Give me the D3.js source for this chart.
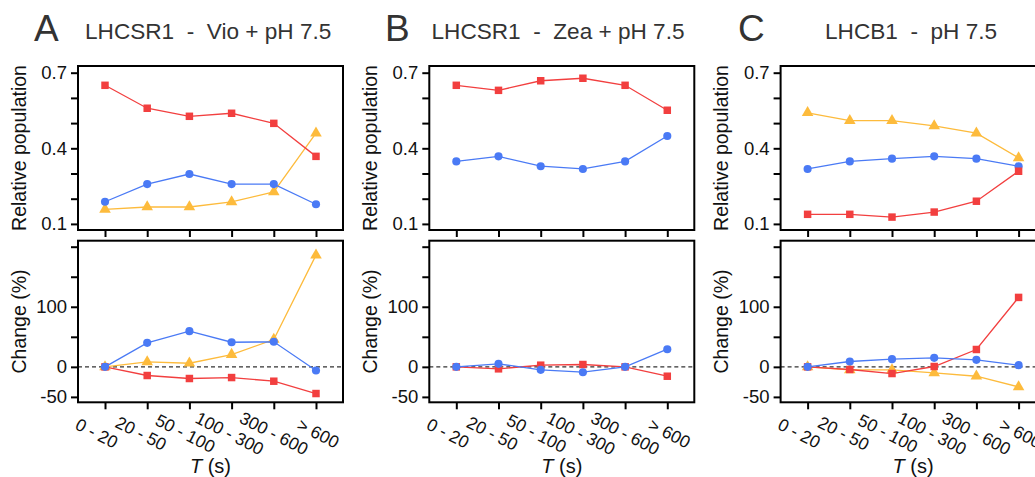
<!DOCTYPE html>
<html><head><meta charset="utf-8">
<script src="https://cdn.jsdelivr.net/npm/d3@7"></script>
<style>
body{margin:0;background:#fff;}
text{font-family:"Liberation Sans",Arial,Helvetica,sans-serif;}
</style></head>
<body><svg id="chart" width="1035" height="477"></svg>
<script>
const categories = ["0 - 20","20 - 50","50 - 100","100 - 300","300 - 600","> 600"];
const panelLetters = ["A","B","C"];
const panelTitles = ["LHCSR1  -  Vio + pH 7.5","LHCSR1  -  Zea + pH 7.5","LHCB1  -  pH 7.5"];
const relTicks = [0.1,0.2,0.3,0.4,0.5,0.6,0.7];
const relLabels = [0.1,0.4,0.7];
const chgTicks = [-50,0,50,100,150,200];
const chgLabels = [-50,0,100];

// Panel A
const A_relRed = [0.650,0.559,0.527,0.539,0.499,0.368];
const A_relBlue = [0.188,0.258,0.298,0.258,0.258,0.178];
const A_relOrange = [0.158,0.167,0.167,0.187,0.227,0.460];
const A_chgRed = [0,-14.4,-19.4,-17.8,-23.9,-44.4];
const A_chgBlue = [0,40,59.4,41,41.7,-6];
const A_chgOrange = [0,8.3,6,20.5,45.5,186];
// Panel B
const B_relRed = [0.650,0.630,0.668,0.678,0.650,0.551];
const B_relBlue = [0.348,0.368,0.329,0.318,0.348,0.449];
const B_chgRed = [0,-3.3,2.8,3.9,0,-15.6];
const B_chgBlue = [0,5,-5,-8.9,0,29.4];
// Panel C
const C_relRed = [0.138,0.138,0.127,0.147,0.190,0.309];
const C_relBlue = [0.318,0.348,0.359,0.368,0.359,0.329];
const C_relOrange = [0.541,0.510,0.510,0.489,0.460,0.362];
const C_chgRed = [0,-4.4,-11.1,0.6,28.9,115.6];
const C_chgBlue = [0,8.9,12.8,15,11.7,2.8];
const C_chgOrange = [0,-5,-5,-10,-15.6,-33.3];

const COL = {red:"#f23f3f", blue:"#4a7af5", orange:"#fdbb3c"};

const panels = [
  {rel:[["orange",A_relOrange],["red",A_relRed],["blue",A_relBlue]],
   chg:[["orange",A_chgOrange],["red",A_chgRed],["blue",A_chgBlue]]},
  {rel:[["red",B_relRed],["blue",B_relBlue]],
   chg:[["red",B_chgRed],["blue",B_chgBlue]]},
  {rel:[["orange",C_relOrange],["blue",C_relBlue],["red",C_relRed]],
   chg:[["orange",C_chgOrange],["red",C_chgRed],["blue",C_chgBlue]]}
];

const svg = d3.select("#chart");
const W = 265, topY0 = 66, topY1 = 230, botY0 = 240.7, botY1 = 402.3;

function marker(g, color, x, y){
  let sym;
  if(color==="red") sym = d3.symbol(d3.symbolSquare, 56);
  else if(color==="blue") sym = d3.symbol(d3.symbolCircle, 52);
  else sym = d3.symbol(d3.symbolTriangle, 58);
  g.append("path").attr("d", sym()).attr("transform", `translate(${x},${y})`).attr("fill", COL[color]);
}

function drawSeries(g, x, y, color, vals){
  const line = d3.line().x((d,i)=>x(categories[i])).y(d=>y(d));
  g.append("path").attr("d", line(vals)).attr("fill","none").attr("stroke",COL[color]).attr("stroke-width",1.3);
  vals.forEach((v,i)=>marker(g, color, x(categories[i]), y(v)));
}

panels.forEach((p, pi)=>{
  const left = 78 + 351.3*pi;
  const x = d3.scalePoint().domain(categories).range([left, left+W]).padding(0.64);
  const yT = d3.scaleLinear().domain([0.0758, 0.7266]).range([topY1, topY0]);
  const yB = d3.scaleLinear().domain([-59, 210]).range([botY1, botY0]);

  // letter and title
  svg.append("text").attr("x", [34,385,738][pi]).attr("y", 41).attr("font-size", 37).attr("fill","#333").text(panelLetters[pi]);
  svg.append("text").attr("x", [85,431.5,825][pi]).attr("y", 39).attr("font-size", 22.6).attr("fill","#333")
     .style("white-space","pre").text(panelTitles[pi]);

  // top panel axes
  const ay = svg.append("g").attr("transform",`translate(${left},0)`)
    .call(d3.axisLeft(yT).tickValues(relTicks).tickSize(7).tickPadding(4)
      .tickFormat(d=> relLabels.some(l=>Math.abs(l-d)<1e-9) ? d3.format(".1f")(d) : ""));
  ay.select(".domain").remove();
  ay.selectAll("line").attr("stroke","#000").attr("stroke-width",2);
  ay.selectAll("text").attr("font-size",18.5).attr("fill","#111");
  const axT = svg.append("g").attr("transform",`translate(0,${topY1})`)
    .call(d3.axisBottom(x).tickSize(7).tickFormat(""));
  axT.select(".domain").remove();
  axT.selectAll("line").attr("stroke","#000").attr("stroke-width",2);

  svg.append("text").attr("transform",`translate(${left-59},${(topY0+topY1)/2}) rotate(-90)`)
    .attr("text-anchor","middle").attr("dy","0.35em").attr("font-size",19.5).attr("fill","#111").text("Relative population");

  const gT = svg.append("g");
  p.rel.forEach(([c,v])=>drawSeries(gT, x, yT, c, v));
  svg.append("rect").attr("x",left).attr("y",topY0).attr("width",W).attr("height",topY1-topY0)
    .attr("fill","none").attr("stroke","#000").attr("stroke-width",2);

  // bottom panel
  const by = svg.append("g").attr("transform",`translate(${left},0)`)
    .call(d3.axisLeft(yB).tickValues(chgTicks).tickSize(7).tickPadding(4)
      .tickFormat(d=> chgLabels.includes(d) ? String(d) : ""));
  by.select(".domain").remove();
  by.selectAll("line").attr("stroke","#000").attr("stroke-width",2);
  by.selectAll("text").attr("font-size",18.5).attr("fill","#111");
  const axB = svg.append("g").attr("transform",`translate(0,${botY1})`)
    .call(d3.axisBottom(x).tickSize(7));
  axB.select(".domain").remove();
  axB.selectAll("line").attr("stroke","#000").attr("stroke-width",2);
  axB.selectAll("text").attr("font-size",17.5).attr("fill","#111")
    .attr("text-anchor","middle").attr("x",0).attr("y",0).attr("dy","0.35em")
    .attr("transform",(d,i)=>`translate(${-8.8+2.1*i},31) rotate(27)`);

  svg.append("text").attr("transform",`translate(${left-59},${(botY0+botY1)/2}) rotate(-90)`)
    .attr("text-anchor","middle").attr("dy","0.35em").attr("font-size",19.5).attr("fill","#111").text("Change (%)");

  const xt = svg.append("text").attr("x", left+W/2).attr("y", 473).attr("text-anchor","middle").attr("font-size",20).attr("fill","#111");
  xt.append("tspan").attr("font-style","italic").text("T");
  xt.append("tspan").text(" (s)");

  svg.append("line").attr("x1",left).attr("x2",left+W).attr("y1",yB(0)).attr("y2",yB(0))
    .attr("stroke","#333").attr("stroke-width",1.2).attr("stroke-dasharray","4,3");
  const gB = svg.append("g");
  p.chg.forEach(([c,v])=>drawSeries(gB, x, yB, c, v));
  svg.append("rect").attr("x",left).attr("y",botY0).attr("width",W).attr("height",botY1-botY0)
    .attr("fill","none").attr("stroke","#000").attr("stroke-width",2);
});
</script></body></html>
